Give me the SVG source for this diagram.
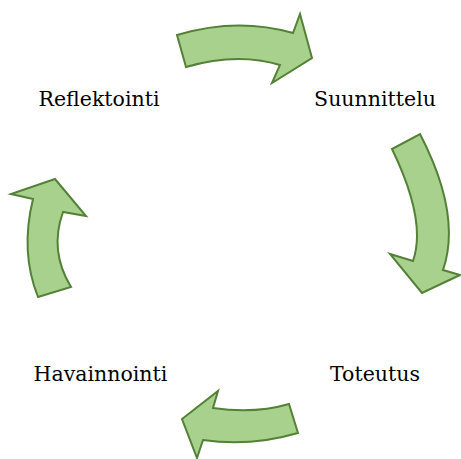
<svg xmlns="http://www.w3.org/2000/svg" width="461" height="459" viewBox="0 0 461 459">
<style>
.arrow{fill:#a9d18e;stroke:#538135;stroke-width:2;stroke-linejoin:miter}
.lbl{font-family:"DejaVu Serif",serif;font-size:20.5px;fill:#000;text-anchor:middle}
</style>
<rect width="461" height="459" fill="#fff"/>
<g id="connectors">
<path id="arrow-top" class="arrow" d="M177,35 Q237,17 293,33 L300,14 L312,58 L272,83 L280,65 Q237,52 186,67 Z"/>
<path id="arrow-right" class="arrow" d="M420,134 Q462,215 443,270 L460,275 L422,293 L390,254 L413,261 Q427,221 392,149 Z"/>
<path id="arrow-bottom" class="arrow" d="M289,404 Q255,414 213,408 L218,391 L182,419 L197,458 L203,440 Q250,447 298,433 Z"/>
<path id="arrow-left" class="arrow" d="M38,297 Q20,252 33,199 L11,194 L55,179 L86,216 L63,212 Q49,251 71,287 Z"/>
</g>
<g id="node-reflektointi"><text class="lbl" x="99" y="106">Reflektointi</text></g>
<g id="node-suunnittelu"><text class="lbl" x="375" y="106">Suunnittelu</text></g>
<g id="node-havainnointi"><text class="lbl" x="100.5" y="381">Havainnointi</text></g>
<g id="node-toteutus"><text class="lbl" x="375" y="381">Toteutus</text></g>
</svg>
